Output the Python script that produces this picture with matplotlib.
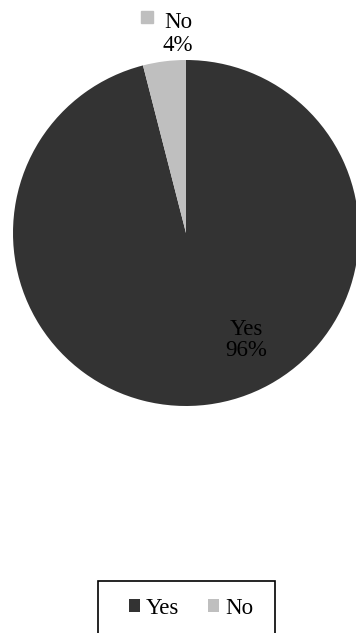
import matplotlib.pyplot as plt
from matplotlib.patches import Patch, Rectangle

categories = ["Yes", "No"]
values = [96, 4]
pct_labels = ["96%", "4%"]
colors = ["#333333", "#bfbfbf"]

W, H = 356, 633
plt.rcParams['font.family'] = ['Liberation Serif', 'DejaVu Serif']

fig = plt.figure(figsize=(W / 100, H / 100), dpi=100)

# pie axes: centre (186, 233) px, radius 173 px
cx, cy, r = 186, 233, 173
ax = fig.add_axes([(cx - r) / W, (H - cy - r) / H, 2 * r / W, 2 * r / H])
wedges, _ = ax.pie(values, colors=colors, startangle=90, counterclock=False,
                   radius=1, center=(0, 0), wedgeprops=dict(linewidth=0))
ax.set_xlim(-1, 1)
ax.set_ylim(-1, 1)
ax.set_aspect('equal')
ax.axis('off')

fs = 16.5
# data labels
ax.text((246 - cx) / r, (cy - 340) / r, f"{categories[0]}\n{pct_labels[0]}",
        ha='center', va='center', fontsize=fs, color='black', linespacing=1.05)
ax.text((178 - cx) / r, (cy - 34) / r, f"{categories[1]}\n{pct_labels[1]}",
        ha='center', va='center', fontsize=fs, color='black', linespacing=1.1,
        clip_on=False)
ax.plot((147 - cx) / r, (cy - 17) / r, marker='s', markersize=8.5,
        color=colors[1], clip_on=False, linestyle='none')

# legend box
fig.patches.append(Rectangle((98 / W, (H - 640) / H), (275 - 98) / W, 59 / H,
                             transform=fig.transFigure, fill=False,
                             edgecolor='black', linewidth=1.2))
handles = [Patch(facecolor=c, edgecolor='none') for c in colors]
fig.legend(handles, categories, loc='center', bbox_to_anchor=(191 / W, 1 - 608 / H),
           ncol=2, frameon=False, fontsize=fs, handlelength=0.5, handleheight=0.5,
           handletextpad=0.25, columnspacing=1.25)

fig.savefig("out.png", dpi=100)
